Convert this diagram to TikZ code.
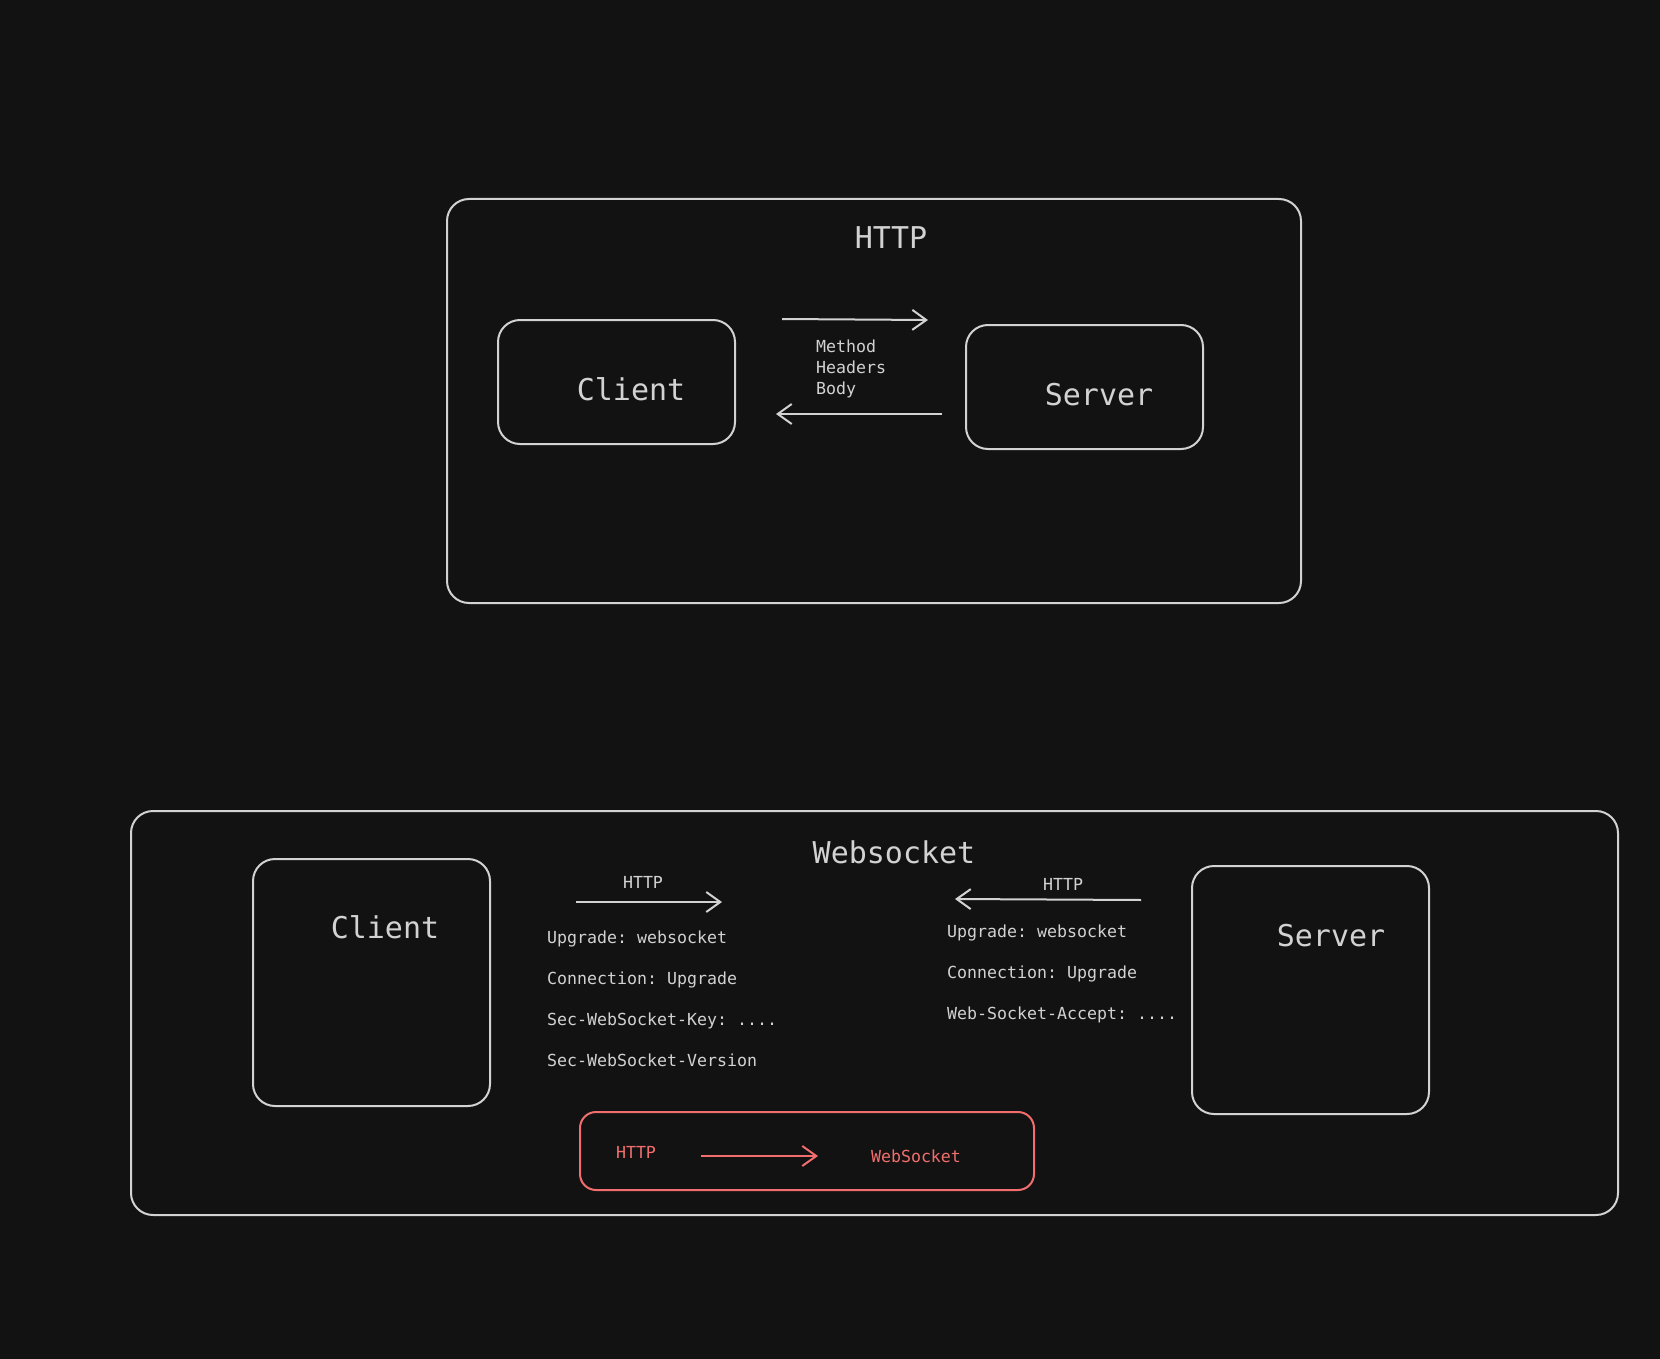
\documentclass[tikz,border=0pt]{standalone}
\usepackage{fontspec}
\setmonofont{DejaVu Sans Mono}
\usetikzlibrary{arrows.meta}
\definecolor{bg}{HTML}{121212}
\definecolor{ink}{HTML}{D2D2D2}
\definecolor{redink}{HTML}{F26E6E}
\begin{document}
\begin{tikzpicture}[x=1pt,y=-1pt,
  box/.style={draw=ink, line width=2pt, rounded corners=22pt, rectangle, inner sep=0pt},
  redbox/.style={draw=redink, line width=2pt, rounded corners=16pt, rectangle, inner sep=0pt},
  big/.style={text=ink, font=\ttfamily\fontsize{30}{36}\selectfont, inner sep=0pt, text height=22pt, text depth=6pt, yshift=-3pt},
  small/.style={text=ink, font=\ttfamily\fontsize{16.6}{21}\selectfont, inner sep=0pt, text height=12.5pt, text depth=3.5pt, yshift=-2pt},
  redsmall/.style={text=redink, font=\ttfamily\fontsize{16.6}{21}\selectfont, inner sep=0pt, text height=12.5pt, text depth=3.5pt, yshift=-2pt},
  arr/.style={draw=ink, line width=2pt, -{Straight Barb[length=14pt, width=20pt, line width=2pt]}},
  redarr/.style={draw=redink, line width=2pt, -{Straight Barb[length=14pt, width=20pt, line width=2pt]}}]
\fill[bg] (0,0) rectangle (1660,1359);
\useasboundingbox (0,0) rectangle (1660,1359);

% ---------- HTTP ----------
\node[box, minimum width=854pt, minimum height=404pt] (httpframe) at (874,401) {};
\node[big] (httptitle) at (891,237) {HTTP};
\node[box, minimum width=237pt, minimum height=124pt] (client1) at (616.5,382) {};
\node[big] (client1t) at (631,389) {Client};
\node[box, minimum width=237pt, minimum height=124pt] (server1) at (1084.5,387) {};
\node[big] (server1t) at (1099,394) {Server};
\coordinate (h1s) at (782,319);
\coordinate (h1e) at (928,320);
\coordinate (h2s) at (942,414);
\coordinate (h2e) at (776,414);
\draw[arr] (h1s) -- (h1e);
\draw[arr] (h2s) -- (h2e);
\node[small, anchor=west] (m1) at (816,346) {Method};
\node[small, anchor=west] (m2) at (816,367) {Headers};
\node[small, anchor=west] (m3) at (816,388) {Body};

% ---------- Websocket ----------
\node[box, minimum width=1487pt, minimum height=404pt] (wsframe) at (874.5,1013) {};
\node[big] (wstitle) at (894,852) {Websocket};
\node[box, minimum width=237pt, minimum height=247pt] (client2) at (371.5,982.5) {};
\node[big] (client2t) at (385,927) {Client};
\node[box, minimum width=237pt, minimum height=248pt] (server2) at (1310.5,990) {};
\node[big] (server2t) at (1331,935) {Server};

\node[small] (lhttp) at (643,882) {HTTP};
\coordinate (l1s) at (576,902);
\coordinate (l1e) at (722,902);
\draw[arr] (l1s) -- (l1e);
\node[small] (rhttp) at (1063,884) {HTTP};
\coordinate (r1s) at (1141,900);
\coordinate (r1e) at (955,899);
\draw[arr] (r1s) -- (r1e);

\node[small, anchor=west] (lt1) at (547,937) {Upgrade: websocket};
\node[small, anchor=west] (lt2) at (547,978) {Connection: Upgrade};
\node[small, anchor=west] (lt3) at (547,1019) {Sec-WebSocket-Key: ....};
\node[small, anchor=west] (lt4) at (547,1060) {Sec-WebSocket-Version};

\node[small, anchor=west] (rt1) at (947,931) {Upgrade: websocket};
\node[small, anchor=west] (rt2) at (947,972) {Connection: Upgrade};
\node[small, anchor=west] (rt3) at (947,1013) {Web-Socket-Accept: ....};

\node[redbox, minimum width=454pt, minimum height=78pt] (upg) at (807,1151) {};
\node[redsmall] (uhttp) at (636,1152) {HTTP};
\node[redsmall] (uws) at (916,1156) {WebSocket};
\coordinate (u1s) at (701,1156);
\coordinate (u1e) at (818,1156);
\draw[redarr] (u1s) -- (u1e);
\end{tikzpicture}
\end{document}
